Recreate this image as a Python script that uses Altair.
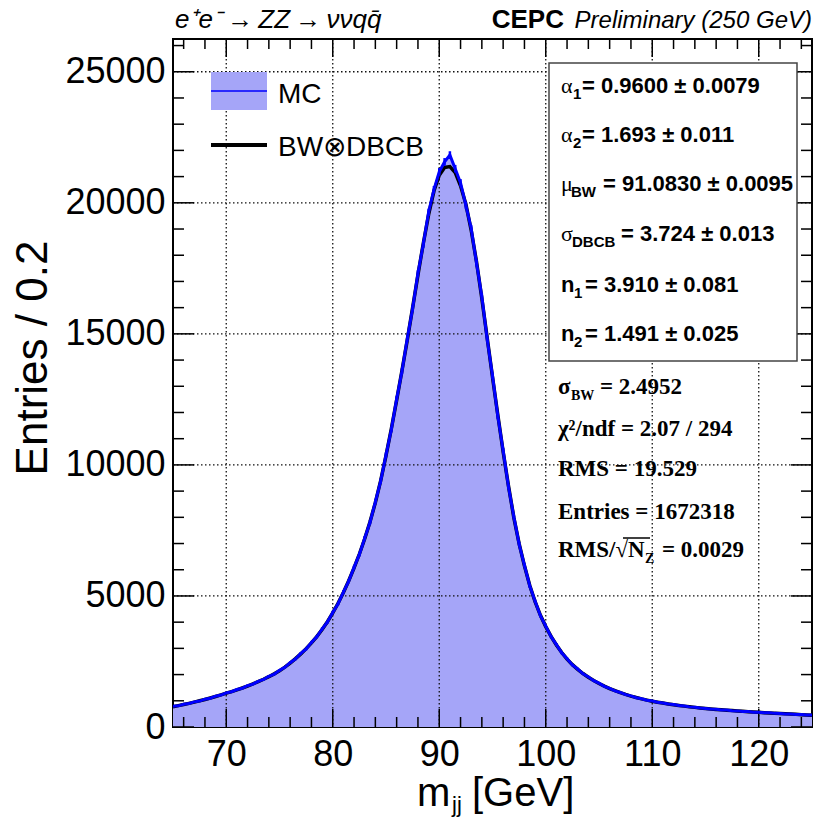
import altair as alt
import pandas as pd
import numpy as np

# ---------------- data ----------------
mass_gev = [65.0 + 0.5 * i for i in range(121)]  # sample positions, 65 .. 125 GeV

mc_entries = [
    790, 808, 866, 895, 958, 990, 1062, 1098, 1175, 1218,
    1302, 1345, 1430, 1480, 1575, 1636, 1742, 1812, 1935, 2018,
    2160, 2275, 2455, 2596, 2808, 2978, 3228, 3440, 3738, 4005,
    4370, 4705, 5150, 5565, 6090, 6585, 7205, 7810, 8590, 9380,
    10380, 11350, 12510, 13570, 14820, 15970, 17310, 18420, 19640, 20500,
    21180, 21560, 21820, 21300, 20760, 19900, 19020, 17700, 16420, 14800,
    13400, 11860, 10540, 9170, 8030, 6980, 6170, 5385, 4800, 4245,
    3850, 3445, 3145, 2828, 2604, 2368, 2212, 2030, 1912, 1766,
    1672, 1552, 1476, 1378, 1318, 1236, 1186, 1118, 1079, 1022,
    990, 942, 917, 876, 855, 818, 800, 768, 753, 723,
    710, 684, 675, 651, 644, 621, 615, 593, 588, 567,
    563, 543, 539, 520, 517, 498, 496, 478, 476, 458,
    456,
]

fit_entries = [
    775, 815, 857, 902, 949, 999, 1051, 1106, 1164, 1225,
    1290, 1352, 1418, 1488, 1563, 1643, 1729, 1821, 1920, 2027,
    2143, 2286, 2440, 2608, 2790, 2990, 3209, 3451, 3719, 4018,
    4351, 4720, 5130, 5580, 6070, 6600, 7180, 7830, 8560, 9400,
    10350, 11380, 12470, 13600, 14770, 16000, 17250, 18450, 19550, 20450,
    21050, 21350, 21380, 21150, 20650, 19950, 18950, 17750, 16350, 14850,
    13350, 11900, 10500, 9200, 8000, 7000, 6150, 5400, 4780, 4260,
    3830, 3460, 3130, 2840, 2590, 2380, 2200, 2040, 1900, 1775,
    1662, 1560, 1468, 1385, 1310, 1242, 1180, 1124, 1073, 1027,
    985, 947, 912, 880, 850, 822, 796, 772, 749, 727,
    706, 688, 671, 655, 640, 625, 611, 597, 584, 571,
    559, 547, 535, 524, 513, 502, 492, 482, 472, 462,
    452,
]

x_major = [70, 80, 90, 100, 110, 120]
x_minor = [66, 68, 72, 74, 76, 78, 82, 84, 86, 88, 92, 94, 96, 98,
           102, 104, 106, 108, 112, 114, 116, 118, 122, 124]
y_major = [0, 5000, 10000, 15000, 20000, 25000]
y_grid = [5000, 10000, 15000, 20000, 25000]
y_minor = [1000, 2000, 3000, 4000, 6000, 7000, 8000, 9000, 11000, 12000, 13000,
           14000, 16000, 17000, 18000, 19000, 21000, 22000, 23000, 24000, 26000]

upper_stats = [
    ("α", "1", "= 0.9600 ± 0.0079"),
    ("α", "2", "= 1.693 ± 0.011"),
    ("μ", "BW", "= 91.0830 ± 0.0095"),
    ("σ", "DBCB", "= 3.724 ± 0.013"),
    ("n", "1", "= 3.910 ± 0.081"),
    ("n", "2", "= 1.491 ± 0.025"),
]

# ---------------- layout ----------------
L, T = 173, 39          # plot-area origin inside the 818x818 page
W, H = 639, 688         # plot-area size
SANS = "Liberation Sans"
SERIF = "Liberation Serif"
FILL = "#a5a5f8"
BLUE = "#0000ff"

xs = alt.Scale(domain=[65, 125], nice=False, zero=False)
ys = alt.Scale(domain=[0, 26250], nice=False, zero=False)

x_axis = alt.Axis(values=x_major, title=None, grid=False, ticks=False, domain=False,
                  labelFont=SANS, labelFontSize=36, labelColor="black",
                  labelPadding=10, labelFlush=False)
y_axis = alt.Axis(values=y_major, title=None, grid=False, ticks=False, domain=False,
                  format="d", labelFont=SANS, labelFontSize=36, labelColor="black",
                  labelPadding=8, labelFlush=False)

df = pd.DataFrame({"m": mass_gev, "mc": mc_entries, "fit": fit_entries})
df["err"] = np.sqrt(df["mc"])
df["lo"] = df["mc"] - df["err"]
df["hi"] = df["mc"] + df["err"]

X = alt.X("m:Q", scale=xs, axis=x_axis)
Y = alt.Y("mc:Q", scale=ys, axis=y_axis)

area = alt.Chart(df).mark_area(color=FILL, clip=True).encode(x=X, y=Y)

GRID = dict(color="#111", strokeWidth=1.3, strokeDash=[1.5, 2.5])
grid_x = alt.Chart(pd.DataFrame({"v": x_major})).mark_rule(**GRID).encode(
    x=alt.X("v:Q", scale=xs, axis=x_axis), y=alt.value(0), y2=alt.value(H))
grid_y = alt.Chart(pd.DataFrame({"v": y_grid})).mark_rule(**GRID).encode(
    y=alt.Y("v:Q", scale=ys, axis=y_axis), x=alt.value(0), x2=alt.value(W))


def xticks(vals, size):
    d = pd.DataFrame({"v": vals})
    base = alt.Chart(d).mark_rule(color="black", strokeWidth=1.5)
    return [base.encode(x=alt.X("v:Q", scale=xs, axis=x_axis), y=alt.value(H), y2=alt.value(H - size)),
            base.encode(x=alt.X("v:Q", scale=xs, axis=x_axis), y=alt.value(0), y2=alt.value(size))]


def yticks(vals, size):
    d = pd.DataFrame({"v": vals})
    base = alt.Chart(d).mark_rule(color="black", strokeWidth=1.5)
    return [base.encode(y=alt.Y("v:Q", scale=ys, axis=y_axis), x=alt.value(0), x2=alt.value(size)),
            base.encode(y=alt.Y("v:Q", scale=ys, axis=y_axis), x=alt.value(W), x2=alt.value(W - size))]


ticks = xticks(x_major, 18) + xticks(x_minor, 10) + yticks(y_major, 21) + yticks(y_minor, 11)

fit_line = alt.Chart(df).mark_line(color="black", strokeWidth=3.5, clip=True).encode(
    x=X, y=alt.Y("fit:Q", scale=ys, axis=y_axis))
mc_line = alt.Chart(df).mark_line(color=BLUE, strokeWidth=3, clip=True).encode(x=X, y=Y)
mc_err = alt.Chart(df).mark_rule(color=BLUE, strokeWidth=2.5, clip=True).encode(
    x=X, y=alt.Y("lo:Q", scale=ys, axis=y_axis), y2="hi:Q")

one = pd.DataFrame({"a": [0]})


def txt(s, x, y, size, font=SANS, weight="normal", style="normal", align="left",
        baseline="alphabetic", angle=None):
    kw = dict(text=s, fontSize=size, font=font, fontWeight=weight, fontStyle=style,
              align=align, baseline=baseline, color="black")
    if angle is not None:
        kw["angle"] = angle
    return alt.Chart(one).mark_text(**kw).encode(x=alt.value(x - L), y=alt.value(y - T))


def box(x1, y1, x2, y2, fill, stroke=None, sw=0):
    kw = dict(fill=fill)
    if stroke:
        kw.update(stroke=stroke, strokeWidth=sw)
    return alt.Chart(one).mark_rect(**kw).encode(
        x=alt.value(x1 - L), x2=alt.value(x2 - L), y=alt.value(y1 - T), y2=alt.value(y2 - T))


def hline(x1, x2, y, color, sw):
    return alt.Chart(one).mark_rule(color=color, strokeWidth=sw).encode(
        x=alt.value(x1 - L), x2=alt.value(x2 - L), y=alt.value(y - T))


texts = []
# header
texts.append(txt("e⁺e⁻\u2009→\u2009ZZ\u2009→\u2009ννqq̄", 175, 28, 26, style="italic"))
texts.append(txt("Preliminary (250 GeV)", 812, 28, 24, style="italic", align="right"))
texts.append(txt("CEPC", 564, 28, 26, weight="bold", align="right"))
# axis titles
texts.append(txt("Entries / 0.2", 47, 358, 44, angle=270, align="center"))
texts.append(txt("m", 417, 806, 40))
texts.append(txt("jj", 452, 812, 22))
texts.append(txt("[GeV]", 472, 806, 40))
# legend
legend = [box(211, 72, 267, 110, FILL), hline(211, 267, 91, BLUE, 1.5),
          hline(211, 267, 145, "black", 4)]
texts.append(txt("MC", 278, 103, 28))
texts.append(txt("BW⊗DBCB", 278, 156, 28))
# upper stats box
stats_box = box(549, 63, 797, 361, "white", "#444", 1.5)
base_y = [93, 142, 191, 241, 292, 341]
sym_x = {"α": 561, "μ": 561, "σ": 561, "n": 561}
sub_x = {"α": 573, "μ": 571, "σ": 572, "n": 574}
rest_x = [582, 582, 603, 621, 585, 585]
for (sym, sub, rest), by, rx in zip(upper_stats, base_y, rest_x):
    if sym == "n":
        texts.append(txt(sym, sym_x[sym], by, 22, weight="bold"))
    else:
        texts.append(txt(sym, sym_x[sym], by, 22, font=SERIF))
    texts.append(txt(sub, sub_x[sym], by + 6, 15, weight="bold"))
    texts.append(txt(rest, rx, by, 22, weight="bold"))
# lower stats (serif)
texts.append(txt("σ", 558, 394, 23, font=SERIF, weight="bold"))
texts.append(txt("BW", 571, 400, 14, font=SERIF, weight="bold"))
texts.append(txt("= 2.4952", 600, 394, 23, font=SERIF, weight="bold"))
texts.append(txt("χ²/ndf = 2.07 / 294", 558, 436, 23, font=SERIF, weight="bold"))
texts.append(txt("RMS = 19.529", 558, 476, 23, font=SERIF, weight="bold"))
texts.append(txt("Entries = 1672318", 558, 519, 23, font=SERIF, weight="bold"))
texts.append(txt("RMS/√N", 558, 557, 23, font=SERIF, weight="bold"))
texts.append(txt("Z", 645, 563, 14, font=SERIF, weight="bold"))
texts.append(txt("= 0.0029", 662, 557, 23, font=SERIF, weight="bold"))
overline = hline(623, 650, 538, "black", 1.5)

chart = alt.layer(
    area, grid_x, grid_y, *ticks, fit_line, mc_line, mc_err, *legend, stats_box,
    overline, *texts
).properties(
    width=W, height=H,
    padding={"left": L, "top": T, "right": 818 - L - W, "bottom": 818 - T - H},
    autosize=alt.AutoSizeParams(type="none"),
).configure_view(stroke="black", strokeWidth=2)

chart.save("out.html", embed_options={"renderer": "svg", "actions": False})
